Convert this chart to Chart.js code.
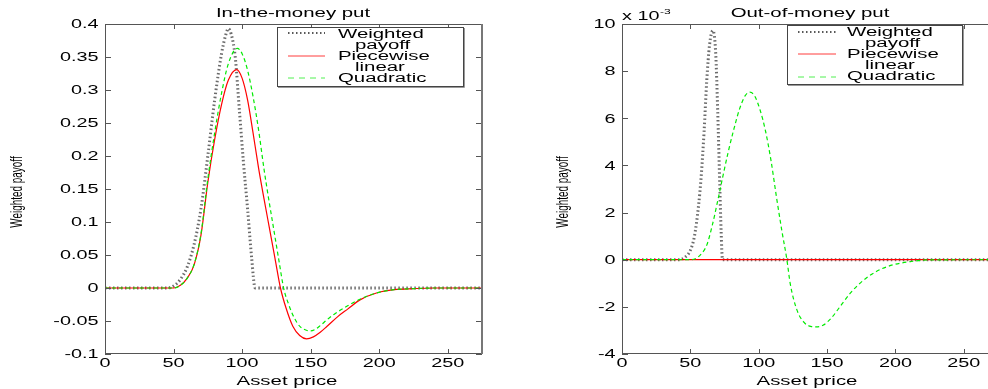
<!DOCTYPE html>
<html>
<head>
<meta charset="utf-8">
<script src="https://cdn.jsdelivr.net/npm/chart.js@4.4.0/dist/chart.umd.min.js"></script>
<style>
    html, body { margin: 0; padding: 0; background: #fff; overflow: hidden; width: 988px; height: 389px; }
    canvas { position: absolute; top: 0; }
    #itm { left: 0; }
    #otm { left: 494px; }
</style>
</head>
<body>
<canvas id="itm" width="494" height="389"></canvas>
<canvas id="otm" width="506" height="389"></canvas>
<script>
// axes
const xTicks = [0, 50, 100, 150, 200, 250];
const itmYTicks = [-0.1, -0.05, 0, 0.05, 0.1, 0.15, 0.2, 0.25, 0.3, 0.35, 0.4];
const otmYTicks = [-4, -2, 0, 2, 4, 6, 8, 10]; // x 10^-3
const legendLabels = [['Weighted', 'payoff'], ['Piecewise', 'linear'], ['Quadratic']];

// In-the-money put
const itmPayoffX = [0, 45, 50, 55, 60, 65, 70, 75, 80, 85, 88, 90, 92, 95, 98, 101, 104, 107, 109.5, 275];
const itmPayoffY = [0, 0, 0.003, 0.013, 0.032, 0.066, 0.12, 0.2, 0.285, 0.355, 0.383, 0.393, 0.385, 0.35, 0.27, 0.19, 0.12, 0.045, 0, 0];
const itmLinearX = [0, 50, 55, 60, 65, 70, 75, 80, 85, 90, 96, 100, 104, 108, 112, 116, 120, 124, 128, 132, 137, 142, 147, 152, 157, 162, 170, 177, 186, 198, 211, 225, 240, 275];
const itmLinearY = [0, 0, 0.004, 0.015, 0.035, 0.08, 0.16, 0.225, 0.278, 0.315, 0.331, 0.318, 0.285, 0.235, 0.182, 0.135, 0.09, 0.045, 0, -0.03, -0.058, -0.072, -0.077, -0.074, -0.067, -0.058, -0.043, -0.032, -0.018, -0.0076, -0.0026, -0.001, 0, 0];
const itmQuadX = [0, 50, 55, 60, 65, 70, 75, 80, 85, 90, 96.5, 100, 104, 108, 112, 116, 119, 123, 127, 130.3, 134, 138, 142.5, 147, 150, 153, 157, 162, 167, 177, 186, 198, 211, 225, 240, 275];
const itmQuadY = [0, 0, 0.004, 0.015, 0.036, 0.082, 0.165, 0.235, 0.295, 0.34, 0.363, 0.355, 0.33, 0.29, 0.24, 0.18, 0.14, 0.09, 0.04, 0, -0.025, -0.045, -0.059, -0.064, -0.065, -0.063, -0.057, -0.048, -0.04, -0.027, -0.017, -0.0076, -0.0026, -0.001, 0, 0];

// Out-of-money put (values in units of 10^-3)
const otmPayoffX = [0, 42, 46, 50, 53, 56, 58, 60, 62, 64, 66.5, 68.5, 70, 71.5, 72.5, 73.5, 275];
const otmPayoffY = [0, 0, 0.1, 0.4, 1.0, 2.3, 3.6, 5.4, 7.6, 9.1, 9.72, 8.8, 6.3, 3.2, 1.2, 0, 0];
const otmLinearX = [0, 275];
const otmLinearY = [0, 0];
const otmQuadX = [0, 50, 54, 58, 62, 66, 70, 74, 78, 82, 86, 90, 93.5, 97, 101, 105, 109, 113, 117, 120.6, 123, 128, 133, 138, 142, 147, 153, 160, 167, 175, 186, 198, 211, 223, 275];
const otmQuadY = [0, 0, 0.05, 0.25, 0.62, 1.45, 2.5, 3.6, 4.65, 5.58, 6.4, 6.95, 7.11, 6.95, 6.35, 5.45, 4.2, 2.65, 1.2, 0, -1.0, -2.14, -2.65, -2.83, -2.85, -2.78, -2.48, -1.95, -1.42, -0.95, -0.5, -0.22, -0.08, -0.01, 0];

const FONT = '"Liberation Sans", Arial, sans-serif';

const points = (xs, ys) => xs.map((x, i) => ({ x, y: ys[i] }));

// matlab-ish wide text
function wideText(ctx, str, x, y, sx, align, size) {
    ctx.save();
    ctx.font = size + 'px ' + FONT;
    ctx.fillStyle = '#000';
    ctx.textAlign = align;
    ctx.textBaseline = 'alphabetic';
    ctx.translate(x, y);
    ctx.scale(sx, 1);
    ctx.fillText(str, 0, 0);
    ctx.restore();
}

function drawLegend(ctx, lg) {
    const [bx0, by0, bx1, by1] = lg.box;
    ctx.save();
    ctx.fillStyle = '#fff';
    ctx.fillRect(bx0, by0, bx1 - bx0, by1 - by0);
    ctx.strokeStyle = '#444';
    ctx.lineWidth = 1;
    ctx.strokeRect(bx0 + 0.5, by0 + 0.5, bx1 - bx0, by1 - by0);
    ctx.strokeStyle = '#999';
    ctx.beginPath();
    ctx.moveTo(bx0 + 1, by1 + 1.5); ctx.lineTo(bx1 + 1.5, by1 + 1.5); ctx.lineTo(bx1 + 1.5, by0 + 1);
    ctx.stroke();

    const styles = [
        { color: '#222', width: 1.5, dash: [1.5, 2.5] },
        { color: 'rgb(255,60,60)', width: 1, dash: [] },
        { color: 'rgb(80,240,80)', width: 1, dash: [6, 5] }
    ];
    styles.forEach((s, i) => {
        ctx.strokeStyle = s.color;
        ctx.lineWidth = s.width;
        ctx.setLineDash(s.dash);
        ctx.beginPath();
        ctx.moveTo(lg.sampleX[0], lg.sampleY[i]);
        ctx.lineTo(lg.sampleX[1], lg.sampleY[i]);
        ctx.stroke();
    });
    ctx.setLineDash([]);
    ctx.restore();

    let row = 0;
    legendLabels.forEach(lines => {
        lines.forEach((t, j) => {
            wideText(ctx, t, j === 0 ? lg.textX[0] : lg.textX[1], lg.rows[row], 1.7, 'left', 12);
            row++;
        });
    });
}

const decorations = {
    id: 'decorations',
    afterDraw(chart, args, o) {
        const ctx = chart.ctx;
        const { left, right, top, bottom } = chart.chartArea;
        const xs = chart.scales.x, ys = chart.scales.y;

        // box + inward ticks
        ctx.save();
        ctx.strokeStyle = '#555';
        ctx.lineWidth = 1;
        ctx.strokeRect(left + 0.5, top + 0.5, right - left - 1, bottom - top - 1);
        ctx.beginPath();
        xTicks.forEach(v => {
            const px = Math.round(xs.getPixelForValue(v)) + 0.5;
            ctx.moveTo(px, bottom); ctx.lineTo(px, bottom - 5);
            ctx.moveTo(px, top); ctx.lineTo(px, top + 5);
        });
        o.yTicks.forEach(v => {
            const py = Math.round(ys.getPixelForValue(v)) + 0.5;
            ctx.moveTo(left, py); ctx.lineTo(left + 6, py);
            ctx.moveTo(right, py); ctx.lineTo(right - 6, py);
        });
        ctx.stroke();
        if (o.thickRight) {
            ctx.strokeStyle = '#777';
            ctx.lineWidth = 2;
            ctx.beginPath();
            ctx.moveTo(right, top); ctx.lineTo(right, bottom);
            ctx.stroke();
        }
        ctx.restore();

        // tick labels
        xTicks.forEach(v => wideText(ctx, String(v), xs.getPixelForValue(v), 367, 1.65, 'center', 12));
        o.yTicks.forEach(v => wideText(ctx, String(v), left - 6.5, ys.getPixelForValue(v) + 4.3, 1.65, 'right', 12));

        // titles
        wideText(ctx, o.title, o.titleX, 17, 1.7, 'center', 12);
        wideText(ctx, 'Asset price', o.xLabelX, 385, 1.7, 'center', 12);
        ctx.save();
        ctx.font = '16px ' + FONT;
        ctx.fillStyle = '#000';
        ctx.textAlign = 'center';
        ctx.translate(o.yLabelX, 192);
        ctx.rotate(-Math.PI / 2);
        ctx.scale(0.62, 1);
        ctx.fillText('Weighted payoff', 0, 0);
        ctx.restore();

        if (o.exponent) {
            wideText(ctx, 'x 10', left, 20, 1.65, 'left', 12);
            wideText(ctx, '-3', left + 38, 14, 1.5, 'left', 8);
        }

        drawLegend(ctx, o.legend);
    }
};

function makeChart(id, cfg) {
    const ctx = document.getElementById(id).getContext('2d');
    return new Chart(ctx, {
        type: 'line',
        data: {
            datasets: [
                {
                    label: 'Weighted payoff',
                    data: points(cfg.payoff[0], cfg.payoff[1]),
                    borderColor: 'rgba(70,70,70,0.8)',
                    borderWidth: 3,
                    borderDash: [1.5, 2.5],
                    order: 3
                },
                {
                    label: 'Piecewise linear',
                    data: points(cfg.linear[0], cfg.linear[1]),
                    borderColor: 'rgb(255,0,0)',
                    borderWidth: 1.2,
                    order: 2
                },
                {
                    label: 'Quadratic',
                    data: points(cfg.quad[0], cfg.quad[1]),
                    borderColor: 'rgb(0,235,0)',
                    borderWidth: 1.2,
                    borderDash: [4, 3],
                    order: 1
                }
            ]
        },
        options: {
            responsive: false,
            devicePixelRatio: 1,
            animation: false,
            elements: { point: { radius: 0 }, line: { cubicInterpolationMode: 'monotone' } },
            layout: { padding: { left: 0, top: 24, right: cfg.padRight, bottom: 0 } },
            plugins: {
                legend: { display: false },
                tooltip: { enabled: false },
                decorations: cfg.deco
            },
            scales: {
                x: {
                    type: 'linear', min: 0, max: 275,
                    grid: { display: false }, border: { display: false },
                    ticks: { display: false },
                    afterFit: s => { s.height = 35; }
                },
                y: {
                    min: cfg.yMin, max: cfg.yMax,
                    grid: { display: false }, border: { display: false },
                    ticks: { display: false },
                    afterFit: s => { s.width = cfg.yWidth; }
                }
            }
        },
        plugins: [decorations]
    });
}

makeChart('itm', {
    payoff: [itmPayoffX, itmPayoffY],
    linear: [itmLinearX, itmLinearY],
    quad: [itmQuadX, itmQuadY],
    yMin: -0.1, yMax: 0.4, yWidth: 105, padRight: 12,
    deco: {
        yTicks: itmYTicks, title: 'In-the-money put', titleX: 293, xLabelX: 287, yLabelX: 22,
        thickRight: true, exponent: false,
        legend: { box: [277, 27, 463, 86], sampleX: [288, 325], sampleY: [33, 56, 78], textX: [338, 355], rows: [38, 49, 60, 71, 82] }
    }
});

makeChart('otm', {
    payoff: [otmPayoffX, otmPayoffY],
    linear: [otmLinearX, otmLinearY],
    quad: [otmQuadX, otmQuadY],
    yMin: -4, yMax: 10, yWidth: 128, padRight: 2,
    deco: {
        yTicks: otmYTicks, title: 'Out-of-money put', titleX: 316, xLabelX: 313, yLabelX: 74,
        thickRight: false, exponent: true,
        legend: { box: [293, 25, 468, 84], sampleX: [304, 342], sampleY: [32, 54, 77], textX: [353, 371], rows: [36, 47, 58, 69, 80] }
    }
});
</script>
</body>
</html>
